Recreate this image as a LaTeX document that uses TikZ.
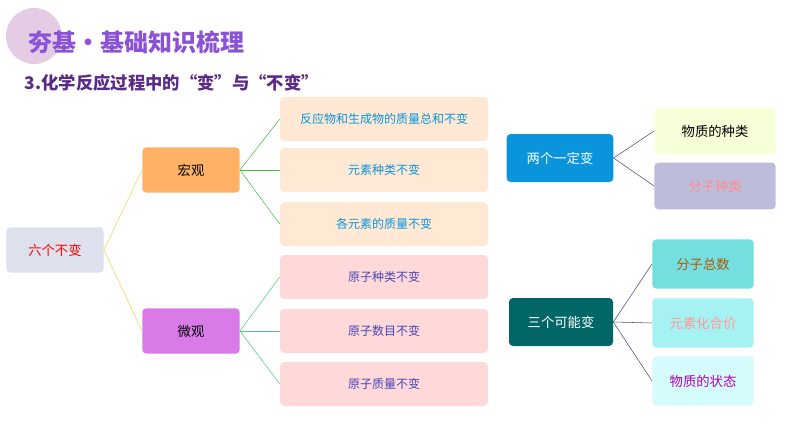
\documentclass[tikz,border=0pt]{standalone}
\usepackage{fontspec}
\setmainfont{Noto Sans CJK SC}
\definecolor{titlepurple}{HTML}{8A52D4}
\definecolor{subpurple}{HTML}{5B2A86}
\definecolor{microfill}{HTML}{D97AE8}
\definecolor{sixfill}{HTML}{DDE1EE}
\begin{document}
\begin{tikzpicture}[
    x=0.75pt, y=-0.75pt,
    every node/.style={font=\small, rounded corners=3pt, align=center},
    leaf/.style={minimum width=156pt, minimum height=33pt},
    hub/.style={minimum width=73pt, minimum height=34pt},
    tip/.style={minimum width=78pt, minimum height=36pt},
    tipb/.style={minimum width=76pt, minimum height=37pt},
    tipc/.style={minimum width=91pt, minimum height=35pt}
]
\useasboundingbox (0,0) rectangle (794,447);
% heading
\fill[violet!20!white] (34,36) circle (28);
\node[font=\bfseries\fontsize{18}{20}\selectfont, text=titlepurple, anchor=west] (head) at (24,42) {夯基·基础知识梳理};
\node[font=\bfseries\fontsize{13}{15}\selectfont, text=subpurple, anchor=west] (sub) at (20,83) {3.化学反应过程中的“变”与“不变”};
% left tree
\node[hub, fill=sixfill, text=red, font=\normalsize] (six) at (55,250) {六个不变};
\node[hub, fill=orange!60, font=\normalsize] (macro) at (191,170) {宏观};
\node[hub, fill=microfill, font=\normalsize] (micro) at (191,331) {微观};
\foreach \n/\y/\t in {m1/119/反应物和生成物的质量总和不变, m2/170/元素种类不变, m3/224/各元素的质量不变}
    \node[leaf, fill=orange!17, text=cyan!80!blue] (\n) at (384,\y) {\t};
\foreach \n/\y/\t in {a1/277/原子种类不变, a2/331/原子数目不变, a3/384/原子质量不变}
    \node[leaf, fill=red!15, text=blue!45!gray] (\n) at (384,\y) {\t};
\draw[yellow!60!brown!80] (six.east) -- (macro.west) (six.east) -- (micro.west);
\foreach \n in {m1,m2,m3} \draw[green!45!gray] (macro.east) -- (\n.west);
\foreach \n in {a1,a2,a3} \draw[teal!60!green!70] (micro.east) -- (\n.west);
% right trees
\node[tip, minimum width=80pt, fill=cyan!80!blue, text=white, font=\normalsize] (two) at (560,158) {两个一定变};
\node[tipc, fill=green!20!yellow!15, font=\normalsize] (k1) at (715,131) {物质的种类};
\node[tipc, fill=blue!30!gray!40, text=red!45, font=\normalsize] (k2) at (715,186) {分子种类};
\node[tip, fill=teal!80!black, text=white, font=\normalsize] (three) at (561,322) {三个可能变};
\node[tipb, fill=teal!45!cyan!55, text=orange!70!black, font=\normalsize] (p1) at (703,264) {分子总数};
\node[tipb, fill=teal!30!cyan!35, text=red!40, font=\normalsize] (p2) at (703,323) {元素化合价};
\node[tipb, fill=teal!15!cyan!17, text=violet!60!magenta, font=\normalsize] (p3) at (703,381) {物质的状态};
\draw[blue!30!black!70] (two.east) -- (k1.west) (two.east) -- (k2.west);
\foreach \n in {p1,p2,p3} \draw[blue!30!black!70] (three.east) -- (\n.west);
\end{tikzpicture}
\end{document}
